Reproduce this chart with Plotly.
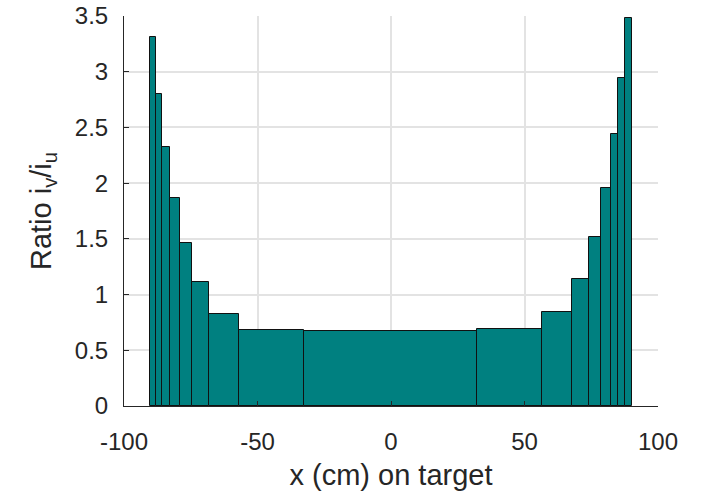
import plotly.graph_objects as go

# Bin edges (cm) and ratio values
bin_edges = [-90.2, -88.1, -85.6, -82.7, -79.2, -74.4, -68.0, -57.1, -32.6,
             32.2, 56.7, 67.7, 74.2, 78.8, 82.3, 85.2, 87.7, 90.1]
ratios = [3.31, 2.80, 2.32, 1.87, 1.46, 1.11, 0.83, 0.685, 0.675,
          0.69, 0.84, 1.14, 1.52, 1.96, 2.44, 2.94, 3.48]

x_ticks = [-100, -50, 0, 50, 100]
y_ticks = [0, 0.5, 1, 1.5, 2, 2.5, 3, 3.5]

centers = [(a + b) / 2 for a, b in zip(bin_edges[:-1], bin_edges[1:])]
widths = [b - a for a, b in zip(bin_edges[:-1], bin_edges[1:])]

fig = go.Figure()
fig.add_trace(go.Bar(
    x=centers, y=ratios, width=widths,
    marker=dict(color="#008080", line=dict(color="#111111", width=1)),
    showlegend=False,
))

font_family = "Liberation Sans, Arial, sans-serif"
fig.update_layout(
    width=702, height=491,
    margin=dict(l=124, r=44, t=16, b=85),
    paper_bgcolor="white", plot_bgcolor="white",
    font=dict(family=font_family, size=24, color="#262626"),
    bargap=0,
    xaxis=dict(
        range=[-100, 100], tickvals=x_ticks, ticktext=[str(v) for v in x_ticks],
        showgrid=True, gridcolor="#e3e3e3", gridwidth=1.5,
        showline=True, linecolor="#262626", linewidth=1,
        ticks="inside", ticklen=5, tickcolor="#262626",
        zeroline=False, automargin=False, ticklabelstandoff=14,
        title=dict(text="x (cm) on target", standoff=10),
    ),
    yaxis=dict(
        range=[0, 3.5], tickvals=y_ticks, ticktext=["0", "0.5", "1", "1.5", "2", "2.5", "3", "3.5"],
        showgrid=True, gridcolor="#e3e3e3", gridwidth=1.5,
        showline=True, linecolor="#262626", linewidth=1,
        ticks="inside", ticklen=5, tickcolor="#262626",
        zeroline=False, automargin=False, ticklabelstandoff=10,
        title=dict(text="Ratio i<sub>v</sub>/i<sub>u</sub>", standoff=14),
    ),
)

fig.write_html("out.html", config={"displayModeBar": False},
               post_script="document.body.style.margin='0';")
